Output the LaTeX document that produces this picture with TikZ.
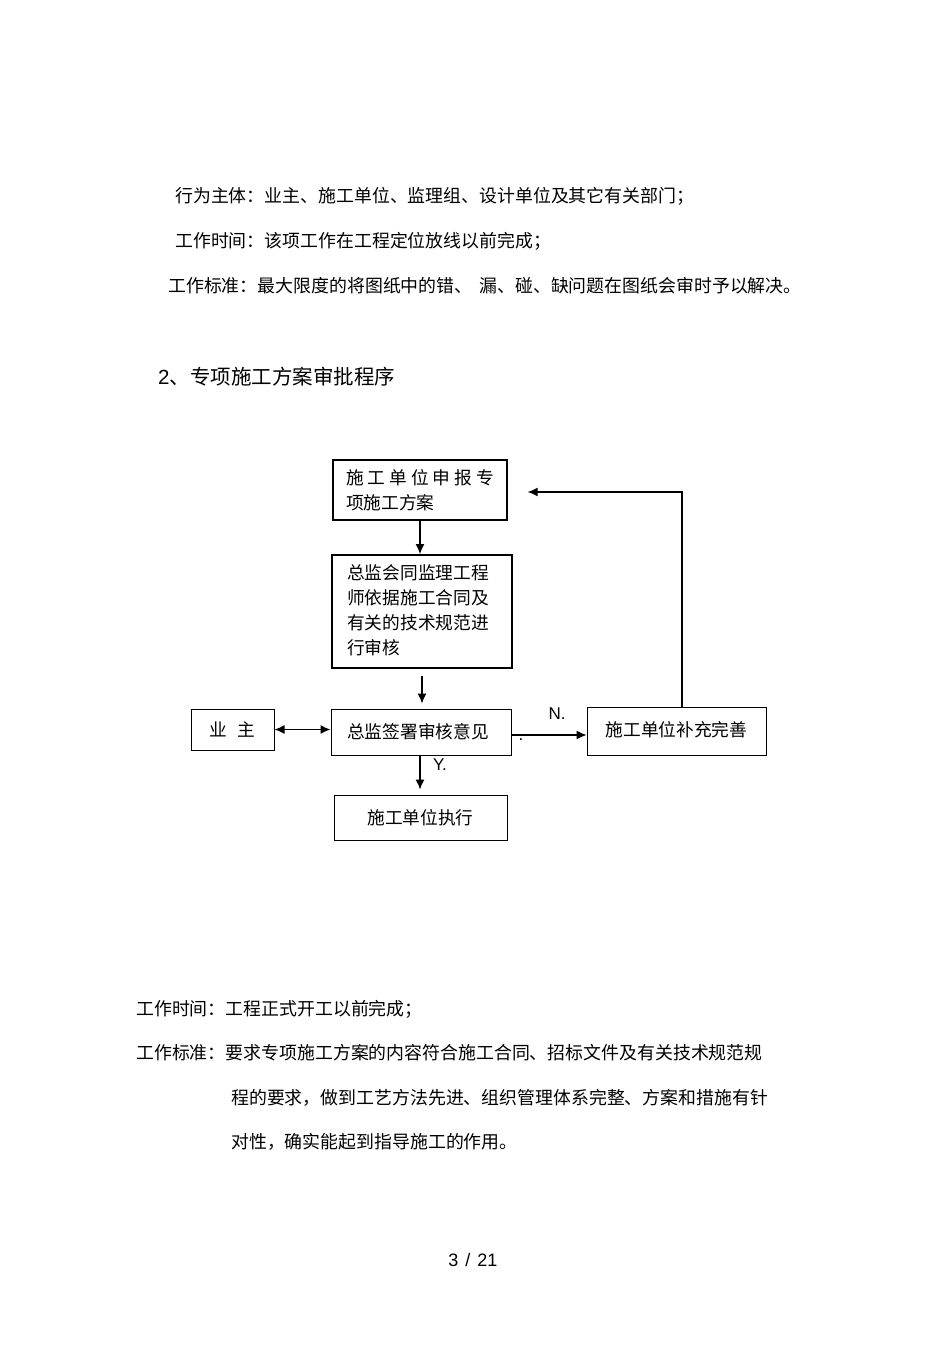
\documentclass[tikz,border=0pt]{standalone}
\usepackage{fontspec}
\setmainfont{Liberation Sans}
\newfontfamily\cjk{Noto Sans CJK SC}
\usetikzlibrary{arrows.meta}
\tikzset{
  kuang/.style={draw, line width=1pt, inner sep=0pt, font=\cjk\fontsize{17.7}{25}\selectfont},
  wenzi/.style={anchor=west, inner sep=0pt, font=\cjk\fontsize{17.9}{21}\selectfont},
  jian/.style={line width=1.3pt, arrows={-Latex[length=10pt, width=9pt]}},
}

\begin{document}
\begin{tikzpicture}[x=1pt, y=-1pt]
\useasboundingbox[fill=white] (0,0) rectangle (950,1345);
\node[wenzi] (t1) at (175,196) {行为主体：业主、施工单位、监理组、设计单位及其它有关部门；};
\node[wenzi] (t2) at (175,241) {工作时间：该项工作在工程定位放线以前完成；};
\node[wenzi] (t3) at (168,286) {工作标准：最大限度的将图纸中的错、\hspace{7pt}漏、碰、缺问题在图纸会审时予以解决。};
\node[anchor=west, inner sep=0pt, font=\fontsize{20.5}{24}\selectfont] (biaoti) at (158,377) {2{\cjk 、专项施工方案审批程序}};

\node[kuang, line width=1.4pt, minimum width=174, minimum height=60, align=left] (shenbao) at (420,490)
  {\makebox[148pt][l]{施\hfill 工\hfill 单\hfill 位\hfill 申\hfill 报\hfill 专}\\项施工方案};
\node[kuang, line width=1.8pt, minimum width=180, minimum height=113, align=left] (shenhe) at (422,611.5)
  {\hspace*{-8pt}\begin{tabular}{@{}l@{}}总监会同监理工程\\师依据施工合同及\\有关的技术规范进\\行审核\end{tabular}};
\node[kuang, minimum width=180, minimum height=46] (yijian) at (421,732) {\hspace*{-6pt}总监签署审核意见};
\node[kuang, minimum width=83, minimum height=41] (yezhu) at (232.5,729.5) {业\hspace{11pt}主};
\node[kuang, minimum width=179, minimum height=48] (buchong) at (676.5,731) {\raisebox{4pt}{施工单位补充完善}};
\node[kuang, minimum width=173, minimum height=45] (zhixing) at (420.5,817.5) {\raisebox{2pt}{施工单位执行}};

\draw[jian] (shenbao.south) -- (shenbao.south |- shenhe.north);
\draw[jian, shorten >=5pt] ([yshift=-7pt]shenhe.south) -- (shenhe.south |- yijian.north);
\draw[line width=1.3pt, {Latex[length=10pt, width=9pt]}-{Latex[length=10pt, width=9pt]}] (yezhu.east) -- (yezhu.east -| yijian.west);
\draw[jian] ([yshift=-3pt]yijian.east) -- ([yshift=-3pt]yijian.east -| buchong.west);
\draw[jian, shorten >=20pt] ([xshift=5.5pt]buchong.north) |- ([yshift=-2pt]shenbao.east);
\draw[jian, shorten >=5pt] ([xshift=-1pt]yijian.south) -- ([xshift=-1pt]yijian.south |- zhixing.north);
\node[font=\fontsize{17}{18}\selectfont, inner sep=0pt] (n) at (557,714) {N.};
\node[font=\fontsize{17}{18}\selectfont, inner sep=0pt] (dian) at (521,740) {.};
\node[font=\fontsize{17}{18}\selectfont, inner sep=0pt] (y) at (440,765) {Y.};

\node[wenzi] (t4) at (136,1009) {工作时间：工程正式开工以前完成；};
\node[wenzi] (t5) at (136,1053) {工作标准：要求专项施工方案的内容符合施工合同、招标文件及有关技术规范规};
\node[wenzi] (t6) at (231,1098) {程的要求，做到工艺方法先进、组织管理体系完整、方案和措施有针};
\node[wenzi] (t7) at (231,1142) {对性，确实能起到指导施工的作用。};
\node[font=\fontsize{18}{20}\selectfont, inner sep=0pt] (ye) at (473,1260) {3\hspace{7pt}/\hspace{7pt}21};
\end{tikzpicture}
\end{document}
